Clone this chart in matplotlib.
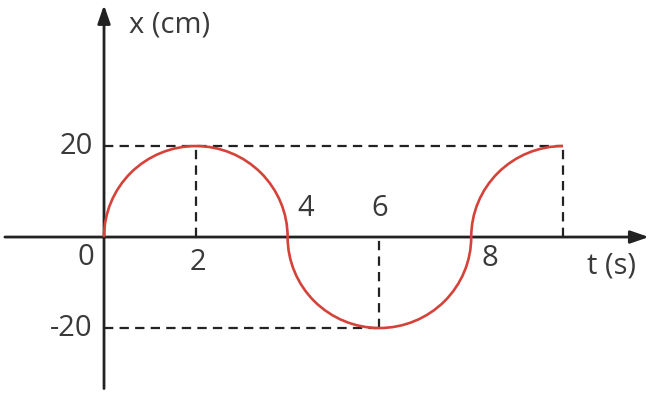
import matplotlib.pyplot as plt
from matplotlib.patches import Arc

# arcs of the curve: centre on the t axis, start/end angle (deg)
arc_centres = [2, 6, 10]
arc_angles = [(0, 180), (180, 360), (90, 180)]
half_period = 4        # width of one arc in s
amplitude = 20         # cm

# tick labels and where they sit
t_labels = ['0', '2', '4', '6', '8']
t_label_pos = [(-0.4, -4.6), (2.05, -5.6), (4.4, 6.3), (6.0, 6.3), (8.4, -4.8)]
x_labels = ['20', '-20']
x_label_vals = [20, -20]

plt.rcParams['font.family'] = ['Open Sans', 'DejaVu Sans']
fig = plt.figure(figsize=(6.5, 3.94), dpi=100)
ax = fig.add_axes([0, 0, 1, 1])
ax.set_xlim(-2.266, 11.895)
ax.set_ylim(-34.5, 52.1)
ax.axis('off')

txt_col = '#3a3a3a'
red = '#d5423a'

# guide lines
dash = dict(color='#222222', lw=1.6, ls=(0, (4.2, 2.8)))
ax.plot([0, 10], [20, 20], **dash)
ax.plot([2, 2], [0, 20], **dash)
ax.plot([10, 10], [0, 20], **dash)
ax.plot([0, 6], [-20, -20], **dash)
ax.plot([6, 6], [-20, 0], **dash)

# axes with arrows
arr = dict(arrowstyle='-|>,head_length=1.1,head_width=0.38', lw=2.0, color='#222222',
           shrinkA=0, shrinkB=0)
ax.annotate('', xy=(11.87, 0), xytext=(-2.16, 0), arrowprops=arr)
ax.annotate('', xy=(0, 51.0), xytext=(0, -33.3), arrowprops=arr)

# curve
for c, (a1, a2) in zip(arc_centres, arc_angles):
    ax.add_patch(Arc((c, 0), half_period, 2 * amplitude, theta1=a1, theta2=a2,
                     color=red, lw=1.9, zorder=3))

for lab, (tx, ty) in zip(t_labels, t_label_pos):
    ax.text(tx, ty, lab, fontsize=21, color=txt_col, ha='center', va='center')
for lab, v in zip(x_labels, x_label_vals):
    ax.text(-0.25, v, lab, fontsize=21, color=txt_col, ha='right', va='center')

ax.text(0.55, 46.6, 'x (cm)', fontsize=21, color=txt_col, ha='left', va='center')
ax.text(11.05, -6.4, 't (s)', fontsize=21, color=txt_col, ha='center', va='center')

fig.savefig('out.png', dpi=100)
